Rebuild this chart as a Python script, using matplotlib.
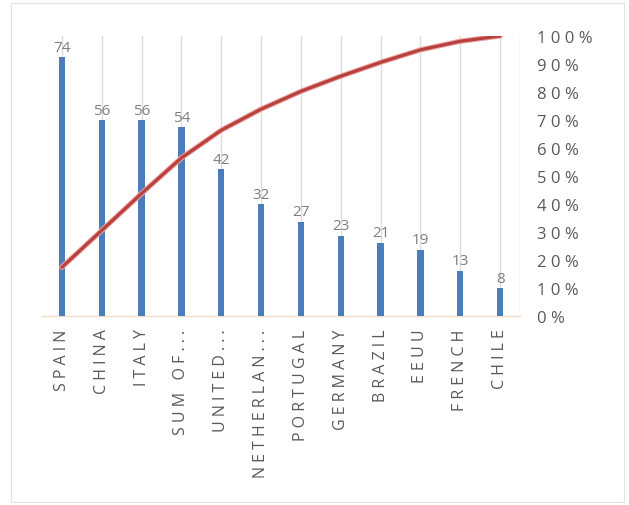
import matplotlib
matplotlib.use("Agg")
import matplotlib.pyplot as plt
from matplotlib.patches import Rectangle
import numpy as np

categories = ["SPAIN", "CHINA", "ITALY", "SUM OF...", "UNITED...", "NETHERLAN...",
              "PORTUGAL", "GERMANY", "BRAZIL", "EEUU", "FRENCH", "CHILE"]
values = [74, 56, 56, 54, 42, 32, 27, 23, 21, 19, 13, 8]
pct_ticks = [0, 10, 20, 30, 40, 50, 60, 70, 80, 90, 100]

plt.rcParams['font.family'] = ['Open Sans', 'DejaVu Sans']


def spaced(s, sep=" "):
    return sep.join(s)


fig = plt.figure(figsize=(6.29, 5.06), dpi=100)
fig.patches.append(Rectangle((11/629, 3/506), 613/629, 499/506, transform=fig.transFigure,
                             fill=False, edgecolor='#e3e3e3', linewidth=0.8))
ax = fig.add_axes([42/629, 1-317/506, (520-42)/629, (317-37)/506])

x = np.arange(len(categories))
ax.bar(x, values, width=0.16, color='#4a7ebb', zorder=3)
for xi, v in zip(x, values):
    ax.text(xi, v + 0.6, str(v), ha='center', va='bottom', fontsize=11, color='#7f7f7f', zorder=4)

ax.set_xlim(-0.5, len(categories) - 0.5)
ax.set_ylim(0, 80)
ax.set_yticks([])
for s in ['top', 'left', 'right']:
    ax.spines[s].set_visible(False)
ax.spines['bottom'].set_color('#f2dcc8')
ax.spines['bottom'].set_linewidth(1.0)
for xi in list(x) + [len(categories) - 0.5]:
    ax.axvline(xi, color='#dcdcdc', linewidth=1.0, zorder=1)
ax.set_xticks(x)
ax.set_xticklabels([spaced(c) for c in categories], rotation=90, fontsize=11.5, color='#595959')
ax.tick_params(axis='x', length=0, pad=9)

cum = np.cumsum(values) / np.sum(values) * 100
ax2 = ax.twinx()
ax2.plot(x, cum, color='#eba5a5', linewidth=3.8, zorder=5, solid_capstyle='round')
ax2.plot(x, cum, color='#b8413d', linewidth=2.3, zorder=6, solid_capstyle='round')
ax2.set_ylim(0, 100)
ax2.set_yticks(pct_ticks)
ax2.set_yticklabels([spaced(f"{t}%") for t in pct_ticks], fontsize=12, color='#595959')
ax2.tick_params(axis='y', length=0, pad=12)
for s in ['top', 'left', 'right', 'bottom']:
    ax2.spines[s].set_visible(False)

fig.savefig("out.png", dpi=100)
